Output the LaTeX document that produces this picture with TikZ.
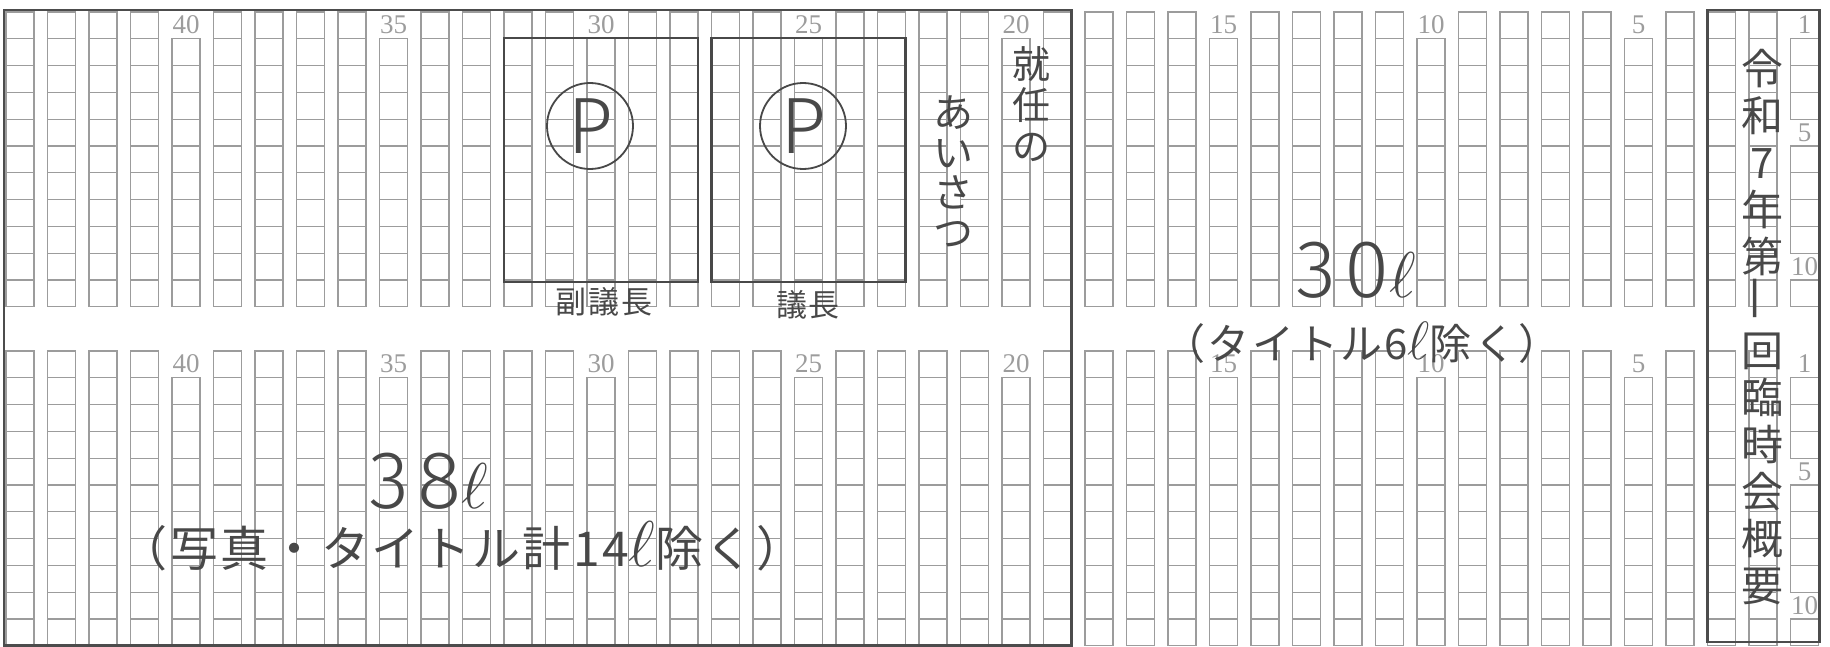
\documentclass[tikz,border=0pt]{standalone}
\usepackage{fontspec}
\usepackage{graphicx}
\setmainfont{Liberation Serif}
\newfontfamily\jpfont{Noto Sans CJK JP}
\newfontfamily\jpwide{Noto Sans CJK JP}[LetterSpace=5]
\newfontfamily\thinfont{Fira Sans Light}
\newfontfamily\thinwide{Fira Sans Light}[LetterSpace=10]
\newcommand{\bigell}{\scalebox{1.3}{$\ell$}}
\definecolor{gridgray}{HTML}{9C9C9C}
\definecolor{pencil}{HTML}{484848}
\definecolor{framegray}{HTML}{4C4C4C}

\begin{document}
\begin{tikzpicture}[
	x=0.5pt, y=-0.5pt,
	cellbox/.style={
		draw=gridgray,
		line width=0.6pt
	},
	numlabel/.style={
		text=gridgray,
		inner sep=0pt,
		font=\fontsize{13.5}{13.5}\selectfont
	},
	frameline/.style={% outer pencil frames
		draw=framegray,
		line width=1.3pt
	},
	photobox/.style={
		rectangle,
		draw=pencil,
		line width=1.1pt,
		minimum width=97pt,
		minimum height=122pt
	},
	pmark/.style={
		circle,
		draw=pencil,
		line width=0.9pt,
		minimum size=43pt,
		inner sep=0pt,
		text=pencil,
		font=\thinfont\fontsize{40}{40}\selectfont
	},
	caption/.style={
		inner sep=0pt,
		text=pencil,
		font=\jpwide\fontsize{15.5}{15.5}\selectfont
	},
	vtext/.style={
		align=center,
		inner sep=0pt,
		text=pencil,
		font=\jpfont\fontsize{19}{20.5}\selectfont
	},
	bigtext/.style={
		inner sep=0pt,
		text=pencil,
		font=\thinwide\fontsize{41}{41}\selectfont
	},
	notetext/.style={
		inner sep=0pt,
		text=pencil,
		font=\jpwide\fontsize{21}{21}\selectfont
	},
]
	\useasboundingbox (0,0) rectangle (1830,647);

	% cells of both blocks
	\foreach \ytop in {12,351}{
		\foreach \c in {1,...,44}{
			\pgfmathsetmacro{\xl}{6+(44-\c)*41.5}
			\foreach \r in {1,...,11}{
				\pgfmathtruncatemacro{\skipcell}{((\r==1)&&(mod(\c,5)==0))||((\c==1)&&((\r==1)||(\r==5)||(\r==10)))}
				\ifnum\skipcell=0
					\draw[cellbox] (\xl,{\ytop+(\r-1)*26.8}) rectangle ++(28,26.8);
				\fi
			}
		}
		% column and line numbers
		\foreach \c in {5,10,...,40}{
			\node[numlabel] (num-\c-\ytop) at ({6+(44-\c)*41.5+14},{\ytop+12.5}) {\c};
		}
		\node[numlabel] (line1-\ytop) at ({6+43*41.5+14},{\ytop+12.5}) {1};
		\node[numlabel] (line5-\ytop) at ({6+43*41.5+14},{\ytop+4*26.8+13.4}) {5};
		\node[numlabel] (line10-\ytop) at ({6+43*41.5+14},{\ytop+9*26.8+13.4}) {10};
	}

	\draw[frameline] (4,10) rectangle (1071.5,645.5);
	\draw[frameline] (1707.5,10) rectangle (1819.5,642);

	\node[photobox] (vicebox) at (601,160) {};
	\node[photobox] (chairbox) at (808.5,160) {};
	\node[pmark] (vicep) at (590,126) {P};
	\node[pmark] (chairp) at (803,126) {P};
	\node[caption] (vicecap) at (604,302) {副議長};
	\node[caption] (chaircap) at (808,305) {議長};

	\node[vtext] (shunin) at (1031,104) {就\\任\\の};
	\node[vtext, font=\jpfont\fontsize{20}{20}\selectfont] (aisatsu) at (953,172) {あ\\い\\さ\\つ};

	\node[bigtext] (thirtyl) at (1356,270) {30\bigell};
	\node[notetext] (titlenote) at (1362,343) {（タイトル6\bigell 除く）};
	\node[bigtext] (thirtyeightl) at (429,481) {38\bigell};
	\node[notetext, font=\jpwide\fontsize{24}{24}\selectfont] (photonote) at (462,546) {（写真・タイトル計14\bigell 除く）};

	\node[vtext, font=\jpfont\fontsize{21}{23.5}\selectfont] (heading) at (1762,327)
		{令\\和\\7\\年\\第\\\rotatebox{90}{一}\\回\\臨\\時\\会\\概\\要};
\end{tikzpicture}
\end{document}
